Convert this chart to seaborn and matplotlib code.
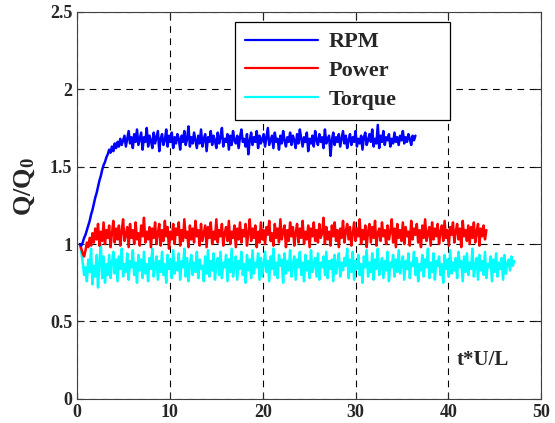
import numpy as np
import pandas as pd
import matplotlib
matplotlib.use("Agg")
import matplotlib.pyplot as plt
import seaborn as sns

t_start = 0.3
dt = 0.15

rpm = [1.00, 0.99, 1.01, 1.04, 1.06, 1.09, 1.12, 1.15, 1.19, 1.22,
       1.26, 1.30, 1.33, 1.37, 1.41, 1.44, 1.48, 1.51, 1.53, 1.56,
       1.58, 1.61, 1.59, 1.63, 1.60, 1.65, 1.62, 1.66, 1.63, 1.68,
       1.64, 1.67,
       1.70, 1.63, 1.68, 1.73, 1.65, 1.69, 1.62, 1.71, 1.66, 1.74,
       1.64, 1.68, 1.72, 1.61, 1.69, 1.66, 1.75, 1.63, 1.70, 1.67,
       1.62, 1.72, 1.65, 1.69, 1.73, 1.60, 1.68, 1.71, 1.64, 1.67,
       1.74, 1.63, 1.70, 1.66, 1.72, 1.62, 1.69, 1.65, 1.71, 1.68,
       1.61, 1.70, 1.66, 1.73, 1.64, 1.68, 1.76, 1.63, 1.69, 1.65,
       1.72, 1.67, 1.62, 1.70, 1.65, 1.74, 1.63, 1.68, 1.71, 1.60,
       1.69, 1.66, 1.73, 1.64, 1.70, 1.67, 1.62, 1.72, 1.65, 1.69,
       1.75, 1.63, 1.68, 1.66, 1.71, 1.61, 1.70, 1.64, 1.73, 1.67,
       1.65, 1.70, 1.62, 1.69, 1.74, 1.66, 1.68, 1.63, 1.71, 1.58,
       1.67, 1.72, 1.64, 1.69, 1.66, 1.73, 1.62, 1.70, 1.65, 1.68,
       1.71, 1.63, 1.69, 1.75, 1.64, 1.67, 1.70, 1.62, 1.72, 1.66,
       1.68, 1.61, 1.70, 1.65, 1.73, 1.67, 1.63, 1.69, 1.66, 1.72,
       1.64, 1.70, 1.67, 1.62, 1.71, 1.65, 1.74, 1.68, 1.63, 1.69,
       1.66, 1.72, 1.60, 1.68, 1.65, 1.70, 1.63, 1.73, 1.67, 1.64,
       1.71, 1.66, 1.69, 1.62, 1.74, 1.65, 1.68, 1.70, 1.57, 1.67,
       1.72, 1.64, 1.69, 1.66, 1.71, 1.63, 1.68, 1.73, 1.65, 1.70,
       1.62, 1.67, 1.71, 1.64, 1.69, 1.66, 1.73, 1.63, 1.68, 1.65,
       1.70, 1.61, 1.69, 1.72, 1.64, 1.67, 1.71, 1.66, 1.74, 1.63,
       1.68, 1.65, 1.77, 1.62, 1.70, 1.66, 1.73, 1.64, 1.69, 1.67,
       1.71, 1.63, 1.68, 1.65, 1.72, 1.66, 1.69, 1.64, 1.70, 1.67,
       1.73, 1.65, 1.69, 1.66, 1.71, 1.68, 1.64, 1.70, 1.67, 1.70]

power = [1.00, 0.97, 0.94, 0.92, 0.96, 1.01, 0.98, 1.04, 0.99, 1.07,
         1.01, 1.10, 1.03, 1.13, 0.99, 1.08, 1.02, 1.14, 1.00, 1.09,
         1.04, 1.12, 0.98, 1.07, 1.15, 1.01, 1.10, 1.03, 1.12, 0.99,
         1.08, 1.16, 1.02, 1.06, 1.11, 0.98, 1.13, 1.04, 1.09, 1.00,
         1.14, 1.03, 1.07, 0.99, 1.12, 1.05, 1.17, 1.01, 1.08, 1.03,
         1.11, 0.98, 1.10, 1.04, 1.14, 1.00, 1.07, 1.13, 0.99, 1.09,
         1.02, 1.15, 1.05, 1.11, 0.97, 1.08, 1.03, 1.13, 1.00, 1.10,
         1.06, 1.14, 0.99, 1.09, 1.02, 1.16, 1.04, 1.08, 0.98, 1.12,
         1.03, 1.10, 1.01, 1.15, 1.05, 1.09, 0.99, 1.13, 1.02, 1.07,
         1.12, 0.98, 1.11, 1.04, 1.14, 1.00, 1.08, 1.03, 1.16, 1.01,
         1.09, 1.05, 1.13, 0.99, 1.07, 1.11, 1.02, 1.15, 1.00, 1.08,
         1.04, 1.12, 0.98, 1.10, 1.03, 1.14, 1.01, 1.09, 1.05, 1.13,
         0.99, 1.07, 1.16, 1.02, 1.10, 1.04, 1.12, 0.98, 1.08, 1.01,
         1.14, 1.03, 1.09, 1.00, 1.11, 1.06, 1.15, 1.02, 1.07, 0.99,
         1.13, 1.04, 1.10, 1.01, 1.16, 1.03, 1.08, 1.12, 0.98, 1.09,
         1.02, 1.14, 1.05, 1.11, 0.99, 1.07, 1.13, 1.01, 1.10, 1.04,
         1.15, 1.00, 1.08, 1.03, 1.12, 0.98, 1.10, 1.05, 1.14, 1.02,
         1.09, 1.01, 1.13, 1.04, 1.07, 1.17, 1.00, 1.11, 1.03, 1.08,
         0.99, 1.12, 1.05, 1.14, 1.02, 1.09, 0.98, 1.10, 1.04, 1.15,
         1.01, 1.08, 1.13, 1.03, 1.11, 0.99, 1.07, 1.14, 1.02, 1.10,
         1.05, 1.16, 1.00, 1.09, 1.03, 1.12, 0.98, 1.08, 1.13, 1.01,
         1.11, 1.04, 1.15, 0.99, 1.07, 1.10, 1.02, 1.14, 1.05, 1.09,
         1.00, 1.12, 1.03, 1.08, 1.16, 1.01, 1.10, 0.98, 1.13, 1.04,
         1.09, 1.02, 1.14, 1.00, 1.11, 1.05, 1.08, 0.99, 1.15, 1.03,
         1.10, 1.06, 1.13, 1.01, 1.09, 0.98, 1.12, 1.04, 1.16, 1.02,
         1.07, 1.11, 0.99, 1.14, 1.03, 1.10, 1.05, 1.13, 1.00, 1.08,
         1.12, 1.02, 1.15, 1.04, 1.09, 0.99, 1.11, 1.06, 1.14, 1.01,
         1.08, 1.13, 1.03, 1.10, 0.98, 1.15, 1.05, 1.09, 1.02, 1.12,
         1.00, 1.11, 1.04, 1.14, 1.01, 1.08, 1.13, 0.99, 1.10, 1.05,
         1.12, 1.03, 1.09]

torque = [1.00, 0.95, 0.88, 0.80, 0.85, 0.76, 0.90, 0.82, 0.97, 0.74,
          0.86, 0.79, 0.93, 0.72, 0.88, 1.00, 0.78, 0.92, 0.75, 0.87,
          0.80, 0.93, 0.78, 0.88, 0.95, 0.81, 0.90, 0.76, 0.92, 0.84,
          0.97, 0.79, 0.87, 0.82, 0.94, 0.77, 0.89, 0.85, 0.96, 0.80,
          0.88, 0.75, 0.93, 0.83, 0.90, 0.78, 0.95, 0.81, 0.87, 0.76,
          0.91, 0.84, 0.97, 0.79, 0.86, 0.92, 0.77, 0.89, 0.82, 0.95,
          0.80, 0.87, 0.75, 0.93, 0.84, 0.90, 0.78, 0.96, 0.81, 0.88,
          0.83, 0.94, 0.77, 0.89, 0.85, 0.97, 0.79, 0.91, 0.76, 0.87,
          0.93, 0.80, 0.88, 0.82, 0.95, 0.78, 0.90, 0.84, 0.86, 0.76,
          0.92, 0.81, 0.96, 0.79, 0.89, 0.83, 0.94, 0.77, 0.87, 0.91,
          0.80, 0.95, 0.78, 0.88, 0.85, 0.93, 0.76, 0.90, 0.82, 0.97,
          0.79, 0.86, 0.92, 0.77, 0.89, 0.84, 0.95, 0.80, 0.87, 0.75,
          0.93, 0.83, 0.90, 0.78, 0.96, 0.81, 0.88, 0.85, 0.94, 0.77,
          0.91, 0.79, 0.87, 0.95, 0.82, 0.89, 0.76, 0.92, 0.84, 0.97,
          0.80, 0.88, 0.78, 0.93, 0.86, 0.90, 0.75, 0.94, 0.81, 0.89,
          0.83, 0.96, 0.79, 0.87, 0.92, 0.77, 0.90, 0.85, 0.95, 0.80,
          0.88, 0.76, 0.93, 0.83, 0.89, 0.78, 0.96, 0.82, 0.87, 0.91,
          0.79, 0.94, 0.77, 0.88, 0.85, 0.92, 0.80, 0.95, 0.78, 0.89,
          0.84, 0.90, 0.76, 0.93, 0.81, 0.87, 0.94, 0.79, 0.88, 0.83,
          0.91, 0.86, 0.97, 0.78, 0.90, 0.82, 0.95, 0.77, 0.89, 0.84,
          0.93, 0.80, 0.87, 0.75, 0.92, 0.85, 0.96, 0.79, 0.88, 0.82,
          0.94, 0.77, 0.90, 0.84, 0.97, 0.80, 0.86, 0.91, 0.78, 0.89,
          0.83, 0.95, 0.76, 0.88, 0.85, 0.93, 0.79, 0.90, 0.82, 0.96,
          0.81, 0.87, 0.92, 0.77, 0.89, 0.84, 0.94, 0.78, 0.88, 0.86,
          0.95, 0.80, 0.91, 0.76, 0.87, 0.83, 0.93, 0.79, 0.90, 0.85,
          0.97, 0.78, 0.88, 0.82, 0.94, 0.77, 0.89, 0.86, 0.92, 0.80,
          0.87, 0.75, 0.93, 0.84, 0.90, 0.79, 0.96, 0.81, 0.88, 0.83,
          0.91, 0.78, 0.95, 0.85, 0.89, 0.76, 0.92, 0.82, 0.94, 0.80,
          0.88, 0.84, 0.97, 0.79, 0.86, 0.91, 0.77, 0.93, 0.83, 0.89,
          0.80, 0.95, 0.78, 0.87, 0.85, 0.92, 0.76, 0.90, 0.82, 0.94,
          0.79, 0.88, 0.84, 0.91, 0.77, 0.93, 0.81, 0.87, 0.90, 0.83,
          0.92, 0.86, 0.89]

labels = ["RPM", "Power", "Torque"]
colors = ["#0000ff", "#ff0000", "#00ffff"]
x_ticks = [0, 10, 20, 30, 40, 50]
y_ticks = [0, 0.5, 1, 1.5, 2, 2.5]
y_ticklabels = ["0", "0.5", "1", "1.5", "2", "2.5"]

frames = []
for name, vals in zip(labels, [rpm, power, torque]):
    t = t_start + dt * np.arange(len(vals))
    frames.append(pd.DataFrame({"t": t, "Q": vals, "series": name}))
df = pd.concat(frames, ignore_index=True)

sns.set_style("ticks")
plt.rcParams["font.family"] = ["Liberation Serif", "DejaVu Serif"]
plt.rcParams["font.weight"] = "bold"
plt.rcParams["mathtext.fontset"] = "custom"
plt.rcParams["mathtext.rm"] = "Liberation Serif"
plt.rcParams["mathtext.bf"] = "Liberation Serif:bold"

fig = plt.figure(figsize=(5.55, 4.23), dpi=100)
ax = fig.add_axes([0.139, 0.057, 0.836, 0.915])

# torque first so rpm ends up on top
for name, c in reversed(list(zip(labels, colors))):
    sns.lineplot(data=df[df.series == name], x="t", y="Q", color=c,
                 lw=1.8, estimator=None, label=name, ax=ax)

ax.set_xlim(0, 50)
ax.set_ylim(0, 2.5)
ax.set_xticks(x_ticks)
ax.set_yticks(y_ticks)
ax.set_yticklabels(y_ticklabels)
ax.grid(True, color="black", lw=0.8, linestyle=(0, (6, 5)))
ax.tick_params(direction="in", top=True, right=True, labelsize=13, length=5)
for s in ax.spines.values():
    s.set_linewidth(0.8)
    s.set_color("0.25")
ax.set_xlabel("")
ax.set_ylabel(r"$\mathbf{Q/Q_0}$", fontsize=19)
ax.yaxis.set_label_coords(-0.086, 0.55)
ax.text(40.9, 0.25, "t*U/L", fontsize=15, fontweight="bold", va="center")

handles, labs = ax.get_legend_handles_labels()
order = [labs.index(n) for n in labels]
leg = ax.legend([handles[i] for i in order], labels, loc="upper left",
                bbox_to_anchor=(0.34, 0.742, 0.464, 0.232), mode="expand",
                borderaxespad=0, fancybox=False, framealpha=1,
                edgecolor="black", handlelength=3.3, handletextpad=0.45,
                borderpad=0.45, labelspacing=0.36,
                prop={"size": 16, "weight": "bold"})
leg.get_frame().set_linewidth(0.9)
for h in leg.get_lines():
    h.set_linewidth(1.6)

fig.savefig("out.png", dpi=100)
